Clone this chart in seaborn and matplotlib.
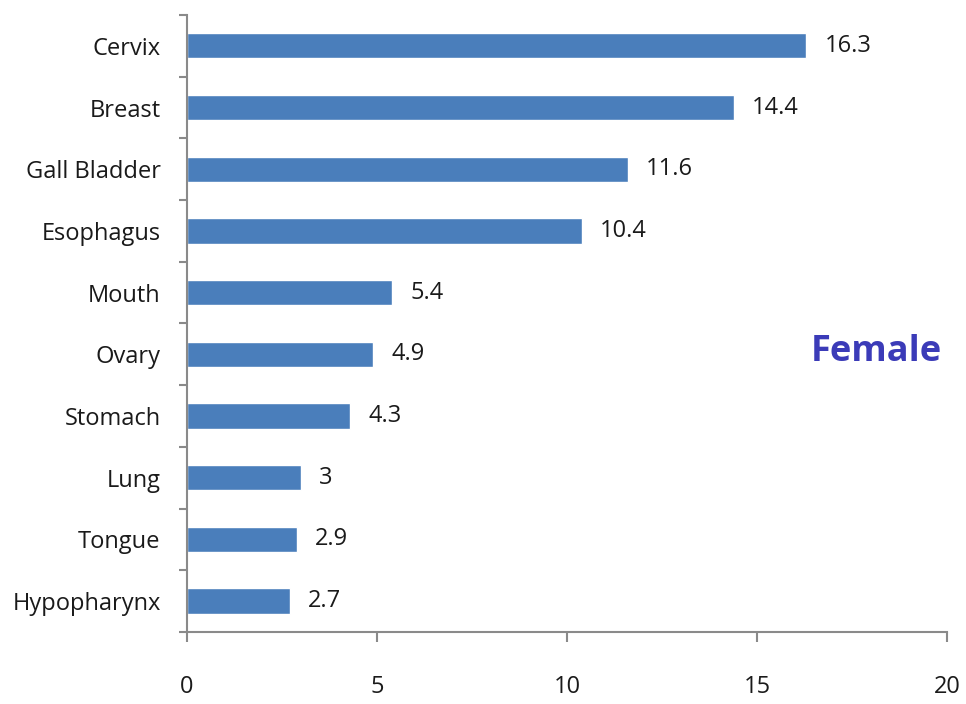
import numpy as np
import pandas as pd
import matplotlib
matplotlib.use("Agg")
import matplotlib.pyplot as plt
import seaborn as sns

# ── data ──
sites = ["Cervix", "Breast", "Gall Bladder", "Esophagus", "Mouth",
         "Ovary", "Stomach", "Lung", "Tongue", "Hypopharynx"]
values = [16.3, 14.4, 11.6, 10.4, 5.4, 4.9, 4.3, 3, 2.9, 2.7]
value_labels = ["16.3", "14.4", "11.6", "10.4", "5.4", "4.9", "4.3", "3", "2.9", "2.7"]

df = pd.DataFrame({"site": sites, "value": values})

sns.set_style("white")
plt.rcParams["font.family"] = ["Open Sans", "DejaVu Sans"]

fig = plt.figure(figsize=(9.66, 7.04), dpi=100)
ax = fig.add_axes([0.1936, 0.1023, 0.7867, 0.8764])

sns.barplot(data=df, x="value", y="site", orient="h", color="#4A7EBB",
            saturation=1, width=0.41, ax=ax)

ax.bar_label(ax.containers[0], labels=value_labels, padding=13,
             fontsize=17, color="#1a1a1a")

ax.set_xlim(0, 20)
ax.set_ylim(len(sites) - 0.5, -0.5)
ax.set_xticks([0, 5, 10, 15, 20])
ax.set_xlabel("")
ax.set_ylabel("")

gray = "#8a8a8a"
for side in ["top", "right"]:
    ax.spines[side].set_visible(False)
for side in ["left", "bottom"]:
    ax.spines[side].set_color(gray)
    ax.spines[side].set_linewidth(1.5)

ax.tick_params(axis="x", bottom=True, length=7, width=1.5, color=gray,
               direction="out", pad=24, labelsize=17, labelcolor="#1a1a1a")
ax.tick_params(axis="y", which="major", left=True, length=0, pad=19,
               labelsize=17, labelcolor="#1a1a1a")
ax.set_yticks(np.arange(-0.5, len(sites), 1), minor=True)
ax.tick_params(axis="y", which="minor", left=True, length=6, width=1.5,
               color=gray, direction="out")

ax.text(0.907, 0.5, "Female", transform=fig.transFigure, ha="center",
        va="center", fontsize=26, fontweight="bold", color="#3B3BB8")

fig.savefig("out.png", dpi=100)
